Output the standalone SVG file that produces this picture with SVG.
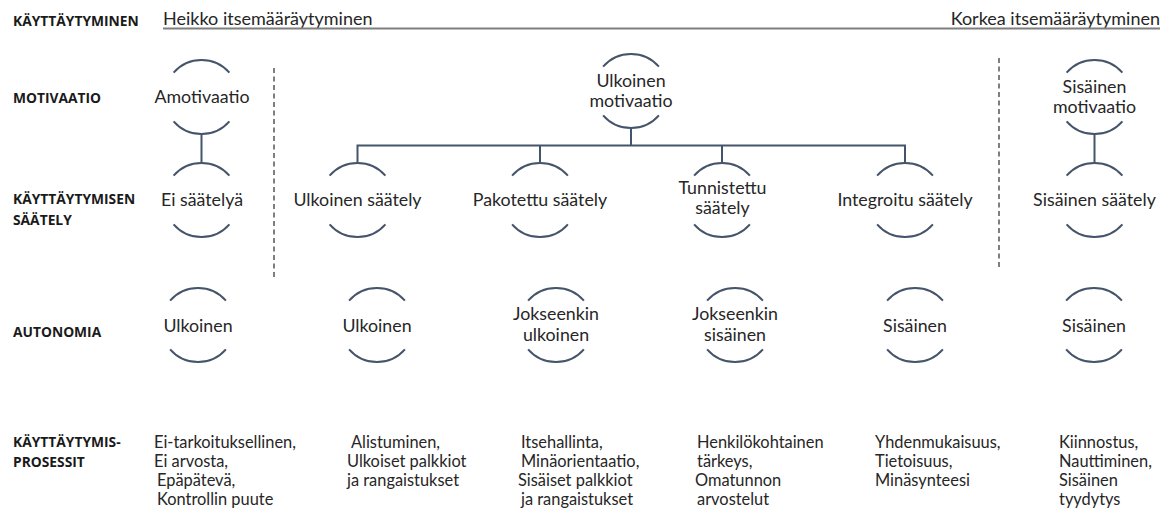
<svg xmlns="http://www.w3.org/2000/svg" xmlns:xlink="http://www.w3.org/1999/xlink" width="1175" height="508" viewBox="0 0 1175 508">
<style>
.lbl{font-family:"Open Sans","Liberation Sans",sans-serif;font-weight:bold;font-size:13.8px;fill:#1a1a1a}
.hd{font-family:Lato,"Liberation Sans",sans-serif;font-size:18px;fill:#262626}
.nt{font-family:Lato,"Liberation Sans",sans-serif;font-size:17.8px;fill:#262626;text-anchor:middle}
.bt{font-family:Lato,"Liberation Sans",sans-serif;font-size:16.4px;fill:#262626}
.ring{fill:none;stroke:#44546a;stroke-width:2}
.conn{fill:none;stroke:#44546a;stroke-width:2}
.dash{fill:none;stroke:#555;stroke-width:1.5;stroke-dasharray:5 3.5}
.rule{stroke:#7f7f7f;stroke-width:2}
</style>
<defs>
<path id="ring" class="ring" d="M-27.9,-24.3 A37,37 0 0 1 27.9,-24.3 M-27.9,24.3 A37,37 0 0 0 27.9,24.3"/>
</defs>
<rect width="1175" height="508" fill="#fff"/>

<g id="header">
<text class="lbl" x="13" y="26">KÄYTTÄYTYMINEN</text>
<text class="hd" x="163" y="25">Heikko itsemääräytyminen</text>
<text class="hd" x="1160" y="25" text-anchor="end">Korkea itsemääräytyminen</text>
<line class="rule" x1="163" y1="28.5" x2="1160" y2="28.5"/>
</g>

<g id="row-labels">
<text class="lbl" x="13" y="103">MOTIVAATIO</text>
<text class="lbl" x="13" y="204">KÄYTTÄYTYMISEN</text>
<text class="lbl" x="13" y="225">SÄÄTELY</text>
<text class="lbl" x="13" y="337">AUTONOMIA</text>
<text class="lbl" x="13" y="447">KÄYTTÄYTYMIS-</text>
<text class="lbl" x="13" y="467">PROSESSIT</text>
</g>

<g id="connectors">
<line class="conn" x1="201.5" y1="134" x2="201.5" y2="163"/>
<polyline class="conn" points="631,128 631,145.5"/>
<polyline class="conn" points="357.5,163 357.5,145.5 905,145.5 905,163"/>
<line class="conn" x1="540" y1="145.5" x2="540" y2="163"/>
<line class="conn" x1="722" y1="145.5" x2="722" y2="163"/>
<line class="conn" x1="1094.5" y1="134" x2="1094.5" y2="163"/>
<line class="dash" x1="274" y1="68" x2="274" y2="278"/>
<line class="dash" x1="999" y1="58" x2="999" y2="268"/>
</g>

<g id="n-amotivaatio"><use xlink:href="#ring" x="201.5" y="97"/><text class="nt" x="202" y="103">Amotivaatio</text></g>
<g id="n-ulkoinen-motivaatio"><use xlink:href="#ring" x="631" y="91"/><text class="nt" x="631" y="87">Ulkoinen</text><text class="nt" x="631" y="107">motivaatio</text></g>
<g id="n-sisainen-motivaatio"><use xlink:href="#ring" x="1094.5" y="97"/><text class="nt" x="1094.5" y="93">Sisäinen</text><text class="nt" x="1094.5" y="113">motivaatio</text></g>

<g id="n-ei-saatelya"><use xlink:href="#ring" x="201.5" y="200"/><text class="nt" x="202" y="206">Ei säätelyä</text></g>
<g id="n-ulkoinen-saately"><use xlink:href="#ring" x="357.5" y="200"/><text class="nt" x="357.5" y="206">Ulkoinen säätely</text></g>
<g id="n-pakotettu-saately"><use xlink:href="#ring" x="540" y="200"/><text class="nt" x="540" y="206">Pakotettu säätely</text></g>
<g id="n-tunnistettu-saately"><use xlink:href="#ring" x="722" y="200"/><text class="nt" x="722.5" y="194">Tunnistettu</text><text class="nt" x="722.5" y="214">säätely</text></g>
<g id="n-integroitu-saately"><use xlink:href="#ring" x="905" y="200"/><text class="nt" x="905" y="206">Integroitu säätely</text></g>
<g id="n-sisainen-saately"><use xlink:href="#ring" x="1094.5" y="200"/><text class="nt" x="1094.5" y="206">Sisäinen säätely</text></g>

<g id="n-aut-1"><use xlink:href="#ring" x="198" y="325"/><text class="nt" x="198" y="332">Ulkoinen</text></g>
<g id="n-aut-2"><use xlink:href="#ring" x="377" y="325"/><text class="nt" x="377" y="332">Ulkoinen</text></g>
<g id="n-aut-3"><use xlink:href="#ring" x="556" y="325"/><text class="nt" x="556" y="320">Jokseenkin</text><text class="nt" x="556" y="341">ulkoinen</text></g>
<g id="n-aut-4"><use xlink:href="#ring" x="735" y="325"/><text class="nt" x="735" y="320">Jokseenkin</text><text class="nt" x="735" y="341">sisäinen</text></g>
<g id="n-aut-5"><use xlink:href="#ring" x="915" y="325"/><text class="nt" x="915" y="332">Sisäinen</text></g>
<g id="n-aut-6"><use xlink:href="#ring" x="1094" y="325"/><text class="nt" x="1094" y="332">Sisäinen</text></g>

<g id="processes">
<text class="bt" x="154" y="448">Ei-tarkoituksellinen,</text>
<text class="bt" x="154" y="467">Ei arvosta,</text>
<text class="bt" x="157" y="486">Epäpätevä,</text>
<text class="bt" x="157" y="505">Kontrollin puute</text>
<text class="bt" x="351" y="448">Alistuminen,</text>
<text class="bt" x="347" y="467">Ulkoiset palkkiot</text>
<text class="bt" x="347" y="486">ja rangaistukset</text>
<text class="bt" x="521" y="448">Itsehallinta,</text>
<text class="bt" x="521" y="467">Minäorientaatio,</text>
<text class="bt" x="518" y="486">Sisäiset palkkiot</text>
<text class="bt" x="521" y="505">ja rangaistukset</text>
<text class="bt" x="697" y="448">Henkilökohtainen</text>
<text class="bt" x="697" y="467">tärkeys,</text>
<text class="bt" x="695" y="486">Omatunnon</text>
<text class="bt" x="697" y="505">arvostelut</text>
<text class="bt" x="875" y="448">Yhdenmukaisuus,</text>
<text class="bt" x="875" y="467">Tietoisuus,</text>
<text class="bt" x="875" y="486">Minäsynteesi</text>
<text class="bt" x="1059" y="448">Kiinnostus,</text>
<text class="bt" x="1059" y="467">Nauttiminen,</text>
<text class="bt" x="1059" y="486">Sisäinen</text>
<text class="bt" x="1059" y="505">tyydytys</text>
</g>
</svg>
